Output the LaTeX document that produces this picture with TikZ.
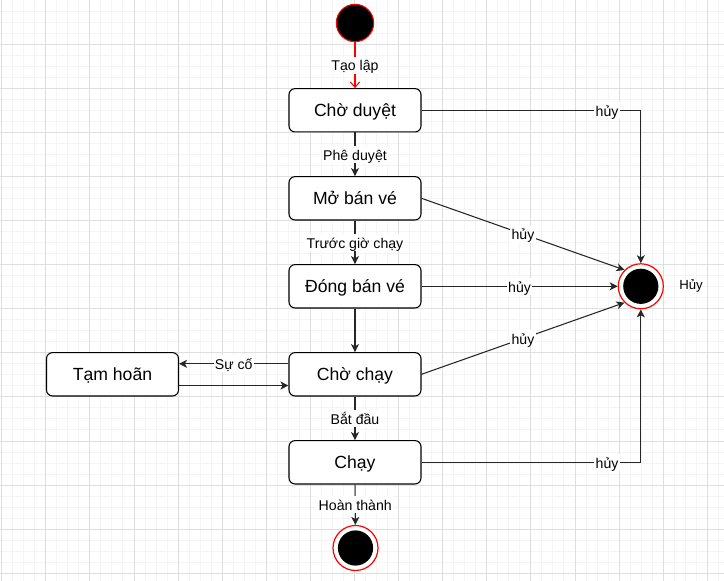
\documentclass[tikz,border=0pt]{standalone}
\usepackage{fontspec}
\setmainfont{Liberation Sans}
\usetikzlibrary{arrows.meta}
\definecolor{gridmin}{RGB}{245,245,245}
\definecolor{gridmaj}{RGB}{222,222,222}
\tikzset{
  stbox/.style={draw=black, fill=white, line width=0.8pt, rounded corners=4.5pt,
    minimum width=99pt, minimum height=32.5pt, text height=9.4pt, text depth=0pt,
    font=\fontsize{13.2}{15}\selectfont},
  trans/.style={draw=black!85, line width=0.8pt, -{Stealth[length=6pt,width=6pt,inset=1.6pt]}},
  initarrow/.style={draw=red, line width=0.8pt, -{Straight Barb[length=4pt,width=7pt]}},
  lbl/.style={fill=white, inner sep=1pt, text height=9.6pt, text depth=1pt,
    font=\fontsize{10.6}{12}\selectfont},
  startstate/.style={circle, draw=red, fill=black, line width=0.8pt, inner sep=0pt, minimum size=28pt},
  endstate/.style={circle, draw=red, fill=white, line width=0.9pt, inner sep=0pt, minimum size=33.75pt,
    path picture={\fill[black] (path picture bounding box.center) circle (13.2pt);}}
}
\begin{document}
\begin{tikzpicture}[x=0.75pt,y=-0.75pt]
  \useasboundingbox (0,0) rectangle (724,581);
  % luoi nen
  \foreach \i in {0,...,66} \draw[gridmin, line width=0.75pt] ({1.7+\i*11.025},0) -- ++(0,581);
  \foreach \j in {0,...,53} \draw[gridmin, line width=0.75pt] (0,{\j*11.025}) -- ++(724,0);
  \foreach \i in {0,...,16} \draw[gridmaj, line width=0.75pt] ({1.7+\i*44.1},0) -- ++(0,581);
  \foreach \j in {0,...,13} \draw[gridmaj, line width=0.75pt] (0,{\j*44.1}) -- ++(724,0);

  \node[startstate] (start) at (355,23) {};
  \node[stbox] (choduyet) at (355,110.3) {Chờ duyệt};
  \node[stbox] (moban) at (355,198.3) {Mở bán vé};
  \node[stbox] (dongban) at (355,286.3) {Đóng bán vé};
  \node[stbox] (chochay) at (355,374.3) {Chờ chạy};
  \node[stbox] (chay) at (355,462.3) {Chạy};
  \node[stbox] (tamhoan) at (112.5,374.3) {Tạm hoãn};
  \node[endstate] (ketthuc) at (355.5,548) {};
  \node[endstate, label={[font=\fontsize{9.9}{11}\selectfont, label distance=8pt]right:Hủy}] (huy) at (640.8,286.3) {};

  \draw[initarrow] (start) -- node[lbl]{Tạo lập} (choduyet);
  \draw[trans] (choduyet) -- node[lbl]{Phê duyệt} (moban);
  \draw[trans] (moban) -- node[lbl]{Trước giờ chạy} (dongban);
  \draw[trans] (dongban) -- (chochay);
  \draw[trans] (chochay) -- node[lbl]{Bắt đầu} (chay);
  \draw[trans] (chay) -- node[lbl]{Hoàn thành} (ketthuc);

  \draw[trans] ([yshift=7.9pt]chochay.west) -- node[lbl]{Sự cố} ([yshift=7.9pt]tamhoan.east);
  \draw[trans] ([yshift=-8.4pt]tamhoan.east) -- ([yshift=-8.4pt]chochay.west);

  % cac canh huy
  \draw[trans] (choduyet.east) -| node[lbl, pos=0.423]{hủy} (huy.north);
  \draw[trans] (moban.east) -- node[lbl]{hủy} (huy.135);
  \draw[trans] (dongban) -- node[lbl]{hủy} (huy);
  \draw[trans] (chochay.east) -- node[lbl]{hủy} (huy.225);
  \draw[trans] (chay.east) -| node[lbl, pos=0.423]{hủy} (huy.south);
\end{tikzpicture}
\end{document}
